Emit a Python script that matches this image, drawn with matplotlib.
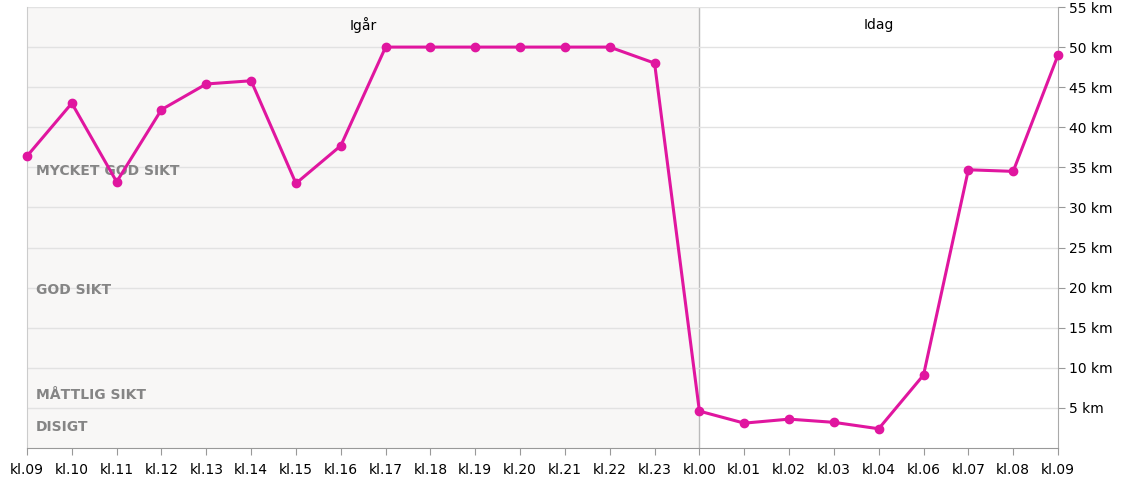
import matplotlib.pyplot as plt

hours = ['kl.09', 'kl.10', 'kl.11', 'kl.12', 'kl.13', 'kl.14', 'kl.15', 'kl.16',
         'kl.17', 'kl.18', 'kl.19', 'kl.20', 'kl.21', 'kl.22', 'kl.23', 'kl.00',
         'kl.01', 'kl.02', 'kl.03', 'kl.04', 'kl.06', 'kl.07', 'kl.08', 'kl.09']
sikt_km = [36.4, 43.0, 33.2, 42.2, 45.4, 45.8, 33.0, 37.7,
           50.0, 50.0, 50.0, 50.0, 50.0, 50.0, 48.0, 4.6,
           3.1, 3.6, 3.2, 2.4, 9.1, 34.7, 34.5, 49.0]
y_ticks = [5, 10, 15, 20, 25, 30, 35, 40, 45, 50, 55]
klass_labels = ['MYCKET GOD SIKT', 'GOD SIKT', 'MÅTTLIG SIKT', 'DISIGT']
klass_y = [34.6, 19.7, 6.6, 2.6]
day_labels = ['Igår', 'Idag']
day_break = 15  # index of kl.00

x = list(range(len(hours)))

fig = plt.figure(figsize=(11.26, 4.88), dpi=100)
ax = fig.add_axes([27 / 1126, 40 / 488, (1058 - 27) / 1126, 441 / 488])

ax.set_xlim(0, len(hours) - 1)
ax.set_ylim(0, 55)

# shaded "yesterday" band
ax.axvspan(0, day_break, color='#f8f7f6', zorder=0)
ax.axvline(day_break, color='#bbbbbb', lw=1, zorder=1)

for t in y_ticks:
    ax.axhline(t, color='#e2e2e2', lw=1, zorder=1)

ax.plot(x, sikt_km, '-o', color='#e0169f', lw=2.2, markersize=6, zorder=3,
        clip_on=False)

for lab, yy in zip(klass_labels, klass_y):
    ax.text(0.2, yy, lab, fontsize=10, fontweight='bold', color='#858585',
            va='center', ha='left', zorder=2, family='DejaVu Sans')

ax.text(day_break / 2, 52.8, day_labels[0], ha='center', va='center', fontsize=10)
ax.text((day_break + len(hours) - 1) / 2, 52.8, day_labels[1], ha='center',
        va='center', fontsize=10)

ax.set_xticks(x)
ax.set_xticklabels(hours, fontsize=10)
ax.yaxis.tick_right()
ax.set_yticks(y_ticks)
ax.set_yticklabels([f'{t} km' for t in y_ticks], fontsize=10)
ax.tick_params(axis='x', length=5, color='#999999', pad=6)
ax.tick_params(axis='y', length=5, color='#999999', pad=3)

ax.spines['top'].set_visible(False)
ax.spines['left'].set_color('#cccccc')
ax.spines['right'].set_color('#aaaaaa')
ax.spines['bottom'].set_color('#999999')

fig.savefig('out.png', dpi=100)
